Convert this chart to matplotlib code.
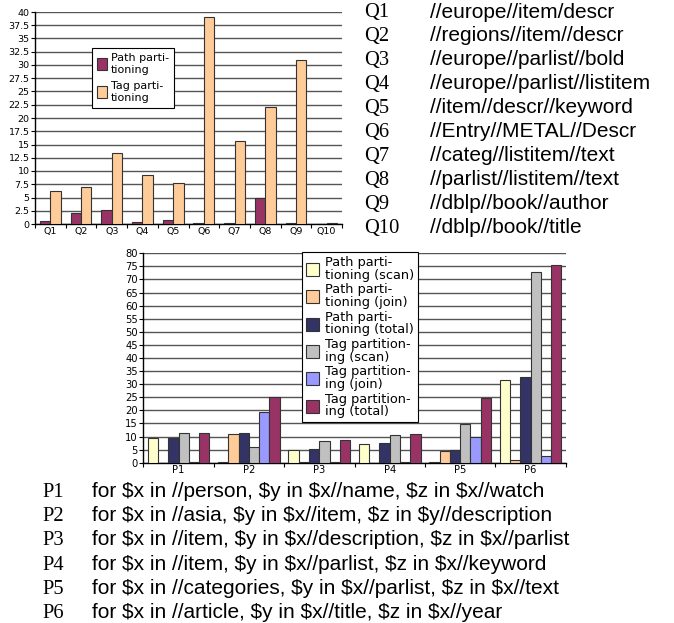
import matplotlib
matplotlib.use("Agg")
import matplotlib.pyplot as plt
import numpy as np

# ---- data: top chart ----
q_labels = ["Q1", "Q2", "Q3", "Q4", "Q5", "Q6", "Q7", "Q8", "Q9", "Q10"]
q_path = [0.5, 2.0, 2.6, 0.35, 0.7, 0.1, 0.1, 5.0, 0.1, 0.05]
q_tag = [6.3, 6.9, 13.4, 9.2, 7.8, 39.0, 15.6, 22.0, 31.0, 0.2]
q_series_names = ["Path parti-\ntioning", "Tag parti-\ntioning"]
q_yticks = [0, 2.5, 5, 7.5, 10, 12.5, 15, 17.5, 20, 22.5, 25, 27.5, 30, 32.5, 35, 37.5, 40]
q_queries = ["//europe//item/descr", "//regions//item//descr", "//europe//parlist//bold",
             "//europe//parlist//listitem", "//item//descr//keyword", "//Entry//METAL//Descr",
             "//categ//listitem//text", "//parlist//listitem//text", "//dblp//book//author",
             "//dblp//book//title"]

# ---- data: bottom chart ----
p_labels = ["P1", "P2", "P3", "P4", "P5", "P6"]
p_path_scan = [9.3, 0.3, 4.8, 7.0, 0.2, 31.6]
p_path_join = [0.0, 10.8, 0.3, 0.0, 4.3, 1.0]
p_path_total = [9.5, 11.2, 5.2, 7.5, 4.7, 32.6]
p_tag_scan = [11.5, 6.1, 8.2, 10.6, 14.8, 73.0]
p_tag_join = [0.1, 19.2, 0.2, 0.4, 9.8, 2.4]
p_tag_total = [11.5, 25.2, 8.5, 11.0, 24.6, 75.4]
p_series_names = ["Path parti-\ntioning (scan)", "Path parti-\ntioning (join)",
                  "Path parti-\ntioning (total)", "Tag partition-\ning (scan)",
                  "Tag partition-\ning (join)", "Tag partition-\ning (total)"]
p_yticks = list(range(0, 85, 5))
p_queries = ["for $x in //person, $y in $x//name, $z in $x//watch",
             "for $x in //asia, $y in $x//item, $z in $y//description",
             "for $x in //item, $y in $x//description, $z in $x//parlist",
             "for $x in //item, $y in $x//parlist, $z in $x//keyword",
             "for $x in //categories, $y in $x//parlist, $z in $x//text",
             "for $x in //article, $y in $x//title, $z in $x//year"]

W, H = 674, 623
fig = plt.figure(figsize=(W / 100, H / 100), dpi=100)

def fx(px):
    return px / W

def fy(py):
    return 1 - py / H

grid_col = "#555555"
edge_col = "#333333"

def style_axes(ax, lsize):
    ax.set_facecolor("white")
    ax.spines["top"].set_visible(False)
    ax.spines["right"].set_visible(False)
    ax.spines["left"].set_color("black")
    ax.spines["bottom"].set_color("black")
    ax.spines["left"].set_linewidth(1.0)
    ax.spines["bottom"].set_linewidth(1.0)
    ax.yaxis.grid(True, color=grid_col, linewidth=1.0)
    ax.set_axisbelow(True)
    ax.tick_params(axis="y", length=3, width=0.8, labelsize=lsize, pad=1)
    ax.tick_params(axis="x", which="major", length=0, labelsize=lsize, pad=2)
    ax.tick_params(axis="x", which="minor", length=3, width=0.8)

# ---- top chart ----
ax1 = fig.add_axes([fx(35), fy(224), fx(342) - fx(35), fy(12) - fy(224)])
x = np.arange(len(q_labels))
bw = 0.34
ax1.bar(x - bw / 2, q_path, bw, color="#993366", edgecolor=edge_col, linewidth=0.8,
        label=q_series_names[0], zorder=3)
ax1.bar(x + bw / 2, q_tag, bw, color="#FFCC99", edgecolor=edge_col, linewidth=0.8,
        label=q_series_names[1], zorder=3)
ax1.set_xlim(-0.5, len(q_labels) - 0.5)
ax1.set_ylim(0, 40)
ax1.set_yticks(q_yticks)
ax1.set_yticklabels([("%g" % v) for v in q_yticks])
ax1.set_xticks(x)
ax1.set_xticklabels(q_labels)
ax1.set_xticks(np.arange(-0.5, len(q_labels), 1.0), minor=True)
style_axes(ax1, 6.8)
leg1 = ax1.legend(loc="upper left", bbox_to_anchor=(0.186, 0.832), fontsize=8.0,
                  frameon=True, fancybox=False, edgecolor="black", framealpha=1,
                  handlelength=0.85, handleheight=1.3, handletextpad=0.4,
                  borderpad=0.45, labelspacing=0.5, borderaxespad=0)
leg1.get_frame().set_linewidth(0.8)
for t in leg1.get_texts():
    t.set_linespacing(1.3)

# right side list
for i, (lab, q) in enumerate(zip(q_labels, q_queries)):
    yb = 17.5 + i * 23.9
    fig.text(fx(364), fy(yb), lab, family="Liberation Serif", fontsize=14.8,
             va="baseline", ha="left")
    fig.text(fx(430), fy(yb), q, family="Liberation Sans", fontsize=15.0,
             va="baseline", ha="left")

# ---- bottom chart ----
ax2 = fig.add_axes([fx(143.3), fy(462.7), fx(565.7) - fx(143.3), fy(253.3) - fy(462.7)])
xp = np.arange(len(p_labels))
series = [p_path_scan, p_path_join, p_path_total, p_tag_scan, p_tag_join, p_tag_total]
colors = ["#FFFFCC", "#FFCC99", "#333366", "#C0C0C0", "#9999FF", "#993366"]
bw2 = 0.146
for k, (vals, col, name) in enumerate(zip(series, colors, p_series_names)):
    off = (k - 2.5) * bw2
    ax2.bar(xp + off, vals, bw2, color=col, edgecolor=edge_col, linewidth=0.8,
            label=name, zorder=3)
ax2.set_xlim(-0.5, len(p_labels) - 0.5)
ax2.set_ylim(0, 80)
ax2.set_yticks(p_yticks)
ax2.set_xticks(xp)
ax2.set_xticklabels(p_labels)
ax2.set_xticks(np.arange(-0.5, len(p_labels), 1.0), minor=True)
style_axes(ax2, 7.2)
leg2 = ax2.legend(loc="upper left", bbox_to_anchor=(0.376, 1.006), fontsize=9.3,
                  frameon=True, fancybox=False, edgecolor="black", framealpha=1,
                  handlelength=1.0, handleheight=1.2, handletextpad=0.45,
                  borderpad=0.3, labelspacing=0.12, borderaxespad=0)
leg2.get_frame().set_linewidth(0.8)
for t in leg2.get_texts():
    t.set_linespacing(0.98)

for i, (lab, q) in enumerate(zip(p_labels, p_queries)):
    yb = 497 + i * 24.2
    fig.text(fx(42), fy(yb), lab, family="Liberation Serif", fontsize=14.8,
             va="baseline", ha="left")
    fig.text(fx(92), fy(yb), q, family="Liberation Sans", fontsize=15.0,
             va="baseline", ha="left")

fig.savefig("out.png", dpi=100, facecolor="white")
